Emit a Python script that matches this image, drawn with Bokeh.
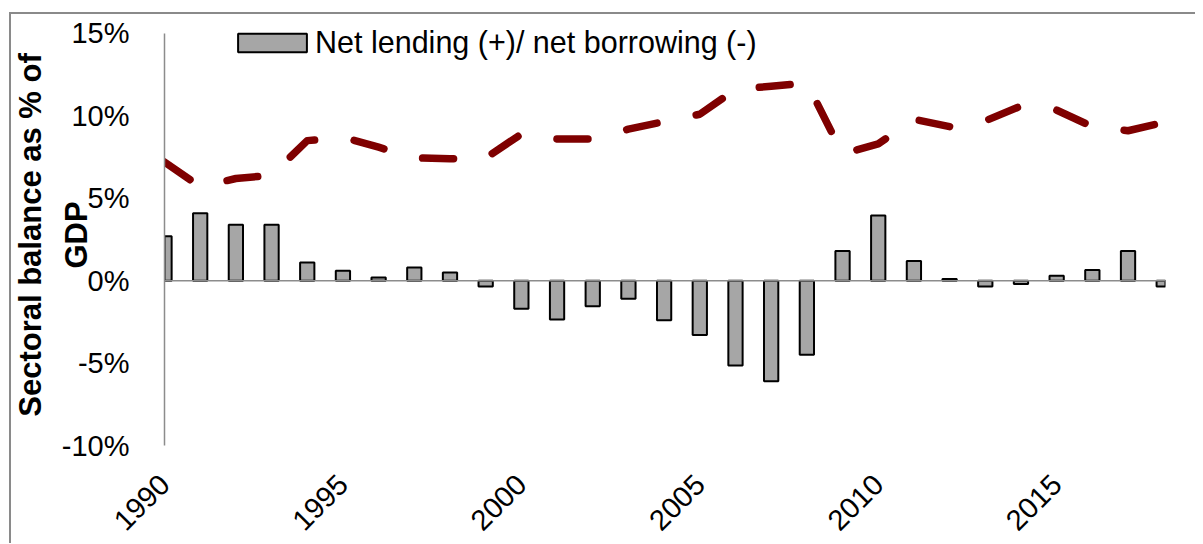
from math import pi
from bokeh.plotting import figure
from bokeh.models import (Range1d, FixedTicker, PrintfTickFormatter, Span, Legend,
                          LegendItem, ColumnDataSource)
from bokeh.embed import file_html
from bokeh.resources import INLINE

years = list(range(1990, 2019))
net_lending = [2.7, 4.1, 3.4, 3.4, 1.1, 0.6, 0.2, 0.8, 0.5, -0.35,
               -1.7, -2.35, -1.55, -1.1, -2.4, -3.3, -5.15, -6.1, -4.5, 1.8,
               3.95, 1.2, 0.1, -0.35, -0.2, 0.3, 0.65, 1.8, -0.35]
line_values = [7.2, 5.7, 6.2, 6.4, 8.5, 8.7, 8.1, 7.45, 7.4, 7.45,
               8.9, 8.6, 8.6, 9.2, 9.65, 10.1, 11.6, 11.8, 12.0, 7.7,
               8.3, 9.8, 9.35, 9.7, 10.6, 10.35, 9.35, 9.1, 9.6]
y_ticks = [-10, -5, 0, 5, 10, 15]
x_ticks = [1990, 1995, 2000, 2005, 2010, 2015]
legend_label = "Net lending (+)/ net borrowing (-)"
y_title = "Sectoral balance as % of\nGDP"

FONT = "Liberation Sans"
W, H = 1195, 543

source = ColumnDataSource(dict(year=years, net=net_lending, line=line_values))

# frame extends a little above 15% so the legend text (which overlaps the top) is not clipped
p = figure(width=W, height=H, x_range=Range1d(1990, 2018.05), y_range=Range1d(-10, 15.546),
           output_backend="svg", toolbar_location=None,
           min_border_left=164, min_border_right=30, min_border_top=24, min_border_bottom=98)
p.outline_line_color = None
p.background_fill_color = "white"
p.border_fill_alpha = 0
p.styles = {
    "background": ("linear-gradient(#8a8a8a,#8a8a8a) 9px 12px / calc(100% - 9px) 2px no-repeat, "
                   "linear-gradient(#8a8a8a,#8a8a8a) 9px 12px / 2px calc(100% - 12px) no-repeat, "
                   "white"),
}
p.xgrid.visible = False
p.ygrid.visible = False

bars = p.vbar(x="year", top="net", bottom=0, width=0.4, source=source,
              fill_color="#A6A6A6", line_color="black", line_width=2)

p.line(x="year", y="line", source=source, line_color="#7F0000", line_width=7.5,
       line_dash="31 40", line_cap="round", line_join="round")

p.add_layout(Span(location=0, dimension="width", line_color="#8c8c8c", line_width=1.5))

# y axis
yax = p.yaxis[0]
yax.ticker = FixedTicker(ticks=y_ticks)
yax.bounds = (y_ticks[0], y_ticks[-1])
yax.formatter = PrintfTickFormatter(format="%d%%")
yax.axis_line_color = "#8c8c8c"
yax.axis_line_width = 1.5
yax.major_tick_line_color = None
yax.minor_tick_line_color = None
yax.major_tick_out = 0
yax.major_label_standoff = 35
yax.major_label_text_font = FONT
yax.major_label_text_font_size = "29px"
yax.major_label_text_color = "black"
yax.axis_label = y_title
yax.axis_label_text_font = FONT
yax.axis_label_text_font_size = "31px"
yax.axis_label_text_font_style = "bold"
yax.axis_label_text_color = "black"
yax.axis_label_text_line_height = 1.3
yax.axis_label_standoff = -35

# x axis
xax = p.xaxis[0]
xax.ticker = FixedTicker(ticks=x_ticks)
xax.axis_line_color = None
xax.major_tick_line_color = None
xax.minor_tick_line_color = None
xax.major_tick_out = 0
xax.major_tick_in = 0
xax.major_label_orientation = pi / 4
xax.major_label_standoff = 34
xax.major_label_text_font = FONT
xax.major_label_text_font_size = "29px"
xax.major_label_text_line_height = 0.8
xax.major_label_text_color = "black"

legend = Legend(items=[LegendItem(label=legend_label, renderers=[bars])],
                location=(65, 385), padding=0, margin=0, spacing=0,
                glyph_width=86, glyph_height=23, label_height=36, label_standoff=0,
                label_text_font=FONT, label_text_font_size="30.5px",
                label_text_color="black",
                background_fill_alpha=0, border_line_color=None)
p.add_layout(legend)

open("out.html", "w").write(file_html(p, INLINE))
